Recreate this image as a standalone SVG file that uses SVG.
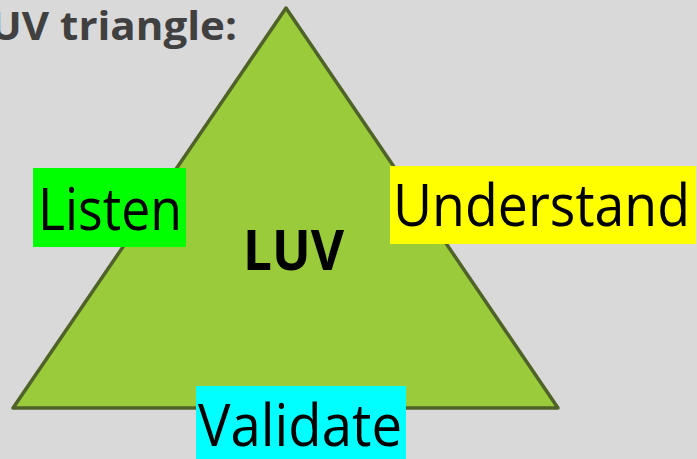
<svg xmlns="http://www.w3.org/2000/svg" width="697" height="459" viewBox="0 0 697 459">
<style>
.lbl{font-family:"Open Sans","Liberation Sans",sans-serif;font-size:58px;fill:#000}
</style>
<rect width="697" height="459" fill="#d9d9d9"/>
<text x="-10" y="40" font-family="Open Sans, Liberation Sans, sans-serif" font-weight="bold" font-size="39" fill="#404040" textLength="247" lengthAdjust="spacingAndGlyphs">UV triangle:</text>
<g id="triangle">
<polygon points="286,8 13,408 558,408" fill="#9acb3a" stroke="#4f6228" stroke-width="3.5" stroke-linejoin="round"/>
<text x="243" y="270" font-family="Open Sans, Liberation Sans, sans-serif" font-weight="bold" font-size="55" fill="#000" textLength="101" lengthAdjust="spacingAndGlyphs">LUV</text>
</g>
<g id="listen">
<rect x="33" y="168" width="153" height="79" fill="#00ff00"/>
<text class="lbl" x="38" y="230" textLength="144" lengthAdjust="spacingAndGlyphs">Listen</text>
</g>
<g id="understand">
<rect x="390" y="166" width="306" height="78" fill="#ffff00"/>
<text class="lbl" x="393" y="226" textLength="297" lengthAdjust="spacingAndGlyphs">Understand</text>
</g>
<g id="validate">
<rect x="196" y="386" width="210" height="73" fill="#00ffff"/>
<text class="lbl" x="198" y="446" textLength="204" lengthAdjust="spacingAndGlyphs">Validate</text>
</g>
<g id="connectors"/>
</svg>
